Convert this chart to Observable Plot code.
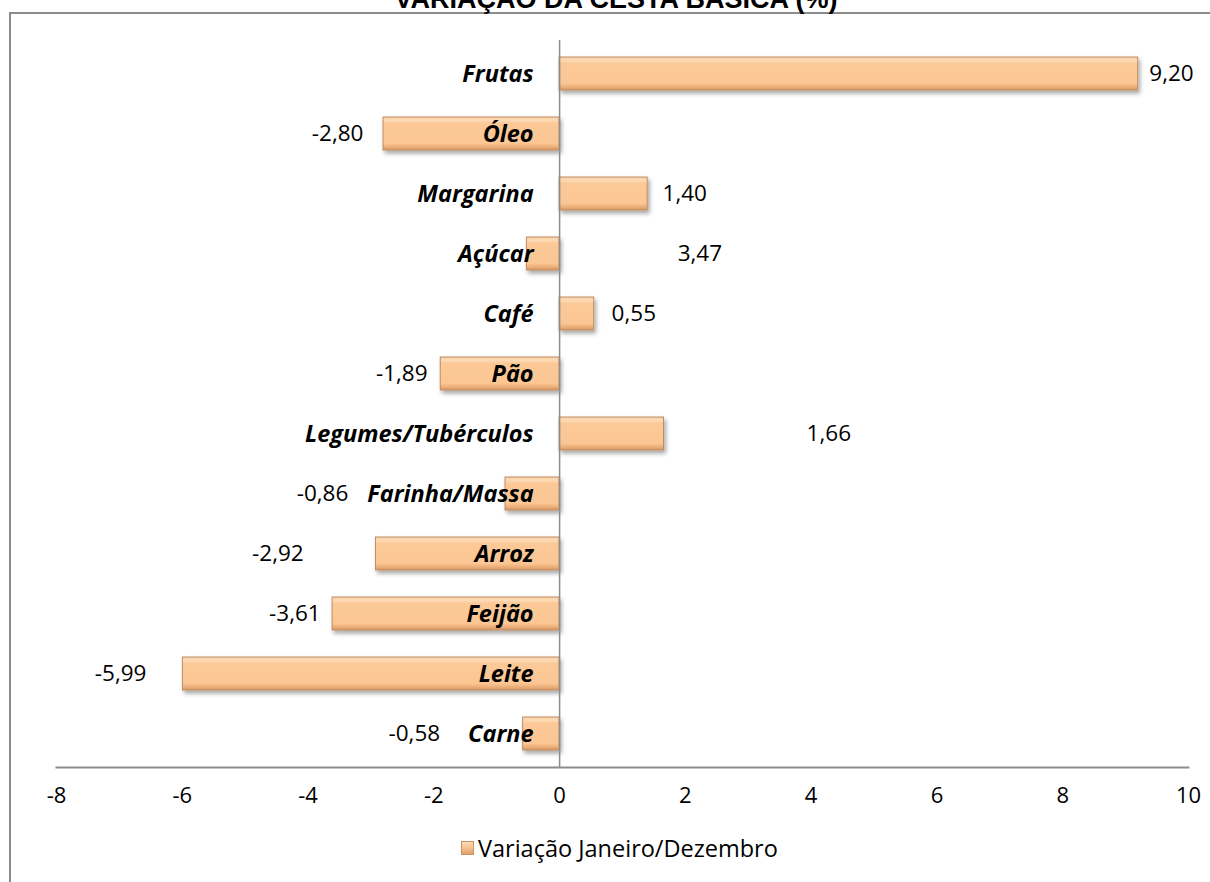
<!DOCTYPE html>
<html><head><meta charset="utf-8">
<script src="https://cdn.jsdelivr.net/npm/d3@7"></script>
<script src="https://cdn.jsdelivr.net/npm/@observablehq/plot@0.6"></script>
<style>
html,body{margin:0;padding:0;background:#fff;overflow:hidden;}
#wrap{position:relative;width:1210px;height:882px;overflow:hidden;font-family:"Open Sans",sans-serif;}
#frame{position:absolute;left:9px;top:12px;width:1300px;height:1000px;border-left:2px solid #8c8c8c;border-top:2px solid #8c8c8c;}
#title{position:absolute;left:0;width:1232px;top:-14px;line-height:27px;text-align:center;font-family:"Liberation Sans",Arial,sans-serif;font-weight:bold;font-size:27px;color:#000;}
#chart{position:absolute;left:0;top:0;}
#legend{position:absolute;left:461px;top:833px;display:flex;align-items:center;font-size:23.5px;color:#000;line-height:30px;}
#legend .sw{width:11px;height:12px;margin-right:4px;border:1px solid #c69465;background:linear-gradient(#fdd8b2,#fbc796 40%,#e0a26c);}
</style></head>
<body><div id="wrap"><div id="frame"></div><div id="title">VARIAÇÃO DA CESTA BÁSICA (%)</div><div id="chart"></div><div id="legend"><div class="sw"></div><span>Variação Janeiro/Dezembro</span></div></div>
<script>
const categories = ["Frutas","Óleo","Margarina","Açúcar","Café","Pão","Legumes/Tubérculos","Farinha/Massa","Arroz","Feijão","Leite","Carne"];
const values = [9.20,-2.80,1.40,-0.52,0.55,-1.89,1.66,-0.86,-2.92,-3.61,-5.99,-0.58];
const valueLabels = ["9,20","-2,80","1,40","3,47","0,55","-1,89","1,66","-0,86","-2,92","-3,61","-5,99","-0,58"];
const labelAt = [9.73,-3.53,1.99,2.23,1.18,-2.51,4.28,-3.77,-4.48,-4.21,-6.98,-2.31];
const xTicks = [-8,-6,-4,-2,0,2,4,6,8,10];

const data = categories.map((c,i)=>({cat:c, v:values[i], lab:valueLabels[i], lx:labelAt[i]}));

const defs = () => {
  const g = d3.create("svg:g");
  const d = g.append("defs");
  const lg = d.append("linearGradient").attr("id","barGrad").attr("x1",0).attr("y1",0).attr("x2",0).attr("y2",1);
  [[0,"#f7cfa7"],[0.1,"#fddab6"],[0.2,"#fbc997"],[0.8,"#fbc694"],[0.9,"#eeb07b"],[1,"#d49763"]]
    .forEach(([o,c])=>lg.append("stop").attr("offset",o).attr("stop-color",c));
  const f = d.append("filter").attr("id","shadow").attr("x","-10%").attr("y","-30%").attr("width","130%").attr("height","180%");
  f.append("feDropShadow").attr("dx",2).attr("dy",3).attr("stdDeviation",2).attr("flood-color","#000").attr("flood-opacity",0.35);
  return g.node();
};

const chart = Plot.plot({
  width: 1210,
  height: 882,
  marginLeft: 56,
  marginRight: 22,
  marginTop: 40,
  marginBottom: 115,
  style: {fontFamily: "'Open Sans', sans-serif", fontSize: "22px", color: "#000", background: "transparent"},
  x: {domain: [-8,10], ticks: xTicks, tickSize: 0, tickPadding: 20, label: null, tickFormat: d => d},
  y: {domain: categories, paddingInner: 0.45, paddingOuter: 0.225, axis: null},
  marks: [
    defs,
    Plot.barX(data, {x: "v", y: "cat", fill: "url(#barGrad)", stroke: "#c08d60", strokeWidth: 1, render: (i,s,v,d,c,next)=>{const n=next(i,s,v,d,c); n.setAttribute("filter","url(#shadow)"); return n;}}),
    Plot.ruleX([0], {stroke: "#8c8c8c", strokeWidth: 1.5}),
    Plot.frame({anchor: "bottom", stroke: "#8c8c8c", strokeWidth: 2}),
    Plot.text(data, {x: 0, y: "cat", text: "cat", dx: -26, textAnchor: "end", fontWeight: "bold", fontStyle: "italic", fontSize: 23.5}),
    Plot.text(data, {x: "lx", y: "cat", text: "lab", textAnchor: "middle", fontSize: 22.5})
  ]
});
document.getElementById("chart").appendChild(chart);
</script>
</body></html>
